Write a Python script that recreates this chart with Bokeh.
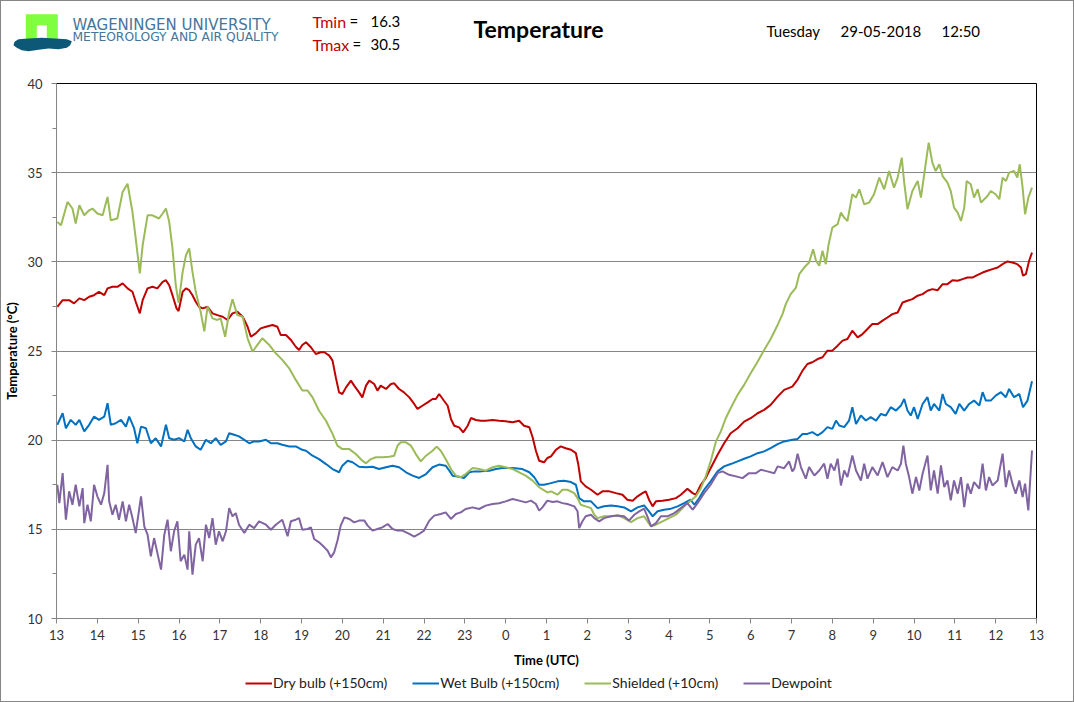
from bokeh.plotting import figure
from bokeh.models import Legend, LegendItem, FixedTicker, Range1d
from bokeh.layouts import column
from bokeh.core.properties import value
from bokeh.embed import file_html
from bokeh.resources import INLINE

# tempo em horas desde 13:00 UTC (28-05-2018), temperatura em graus C
dry_t = [0.02, 0.15, 0.31, 0.43, 0.56, 0.68, 0.80, 0.92, 1.04, 1.17, 1.25, 1.37, 1.49, 1.62, 1.74, 1.86, 1.94, 2.04,
         2.11, 2.23, 2.35, 2.47, 2.60, 2.68, 2.76, 2.84, 2.94, 2.99, 3.09, 3.17, 3.25, 3.33, 3.41, 3.49, 3.58, 3.70,
         3.82, 3.94, 4.07, 4.19, 4.31, 4.43, 4.56, 4.68, 4.76, 4.88, 5.00, 5.13, 5.29, 5.41, 5.49, 5.62, 5.74, 5.86,
         5.94, 6.02, 6.11, 6.23, 6.35, 6.47, 6.56, 6.68, 6.76, 6.84, 6.92, 7.00, 7.09, 7.21, 7.29, 7.41, 7.49, 7.58,
         7.66, 7.78, 7.86, 7.94, 8.07, 8.19, 8.27, 8.39, 8.51, 8.64, 8.76, 8.84, 8.96, 9.09, 9.21, 9.29, 9.37, 9.49,
         9.58, 9.66, 9.74, 9.86, 9.96, 10.07, 10.15, 10.27, 10.39, 10.51, 10.68, 10.84, 11.00, 11.17, 11.33, 11.45,
         11.58, 11.66, 11.74, 11.82, 11.94, 12.02, 12.11, 12.23, 12.35, 12.47, 12.60, 12.72, 12.78, 12.84, 12.96,
         13.09, 13.25, 13.37, 13.54, 13.70, 13.86, 13.98, 14.11, 14.23, 14.35, 14.43, 14.51, 14.60, 14.68, 14.84,
         15.00, 15.17, 15.29, 15.45, 15.58, 15.66, 15.78, 15.90, 16.02, 16.19, 16.35, 16.51, 16.68, 16.84, 17.00,
         17.17, 17.33, 17.49, 17.66, 17.82, 18.02, 18.15, 18.27, 18.39, 18.51, 18.64, 18.76, 18.88, 19.00, 19.13,
         19.25, 19.37, 19.49, 19.62, 19.74, 19.86, 19.98, 20.11, 20.23, 20.35, 20.47, 20.60, 20.72, 20.84, 20.96,
         21.09, 21.21, 21.33, 21.45, 21.58, 21.70, 21.82, 21.94, 22.07, 22.19, 22.31, 22.43, 22.56, 22.68, 22.80,
         22.92, 23.05, 23.17, 23.29, 23.41, 23.53, 23.62, 23.67, 23.74, 23.82, 23.89]
dry_v = [27.48, 27.85, 27.85, 27.67, 27.95, 27.85, 28.04, 28.13, 28.32, 28.13, 28.51, 28.60, 28.60, 28.79, 28.51,
         28.32, 27.76, 27.11, 27.85, 28.51, 28.60, 28.51, 28.88, 28.97, 28.69, 28.13, 27.39, 27.24, 28.32, 28.51,
         28.41, 28.13, 27.76, 27.48, 27.39, 27.48, 27.11, 27.01, 26.92, 26.74, 27.11, 27.20, 26.92, 26.36, 25.80,
         25.99, 26.27, 26.36, 26.46, 26.36, 25.90, 25.90, 25.62, 25.24, 25.06, 25.34, 25.49, 25.21, 24.83, 24.93,
         24.93, 24.74, 24.46, 23.52, 22.68, 22.59, 22.96, 23.34, 23.06, 22.68, 22.40, 23.06, 23.34, 23.15, 22.78,
         23.06, 22.87, 23.15, 23.19, 22.87, 22.68, 22.40, 22.03, 21.75, 21.93, 22.12, 22.31, 22.31, 22.59, 22.21,
         21.93, 21.19, 20.81, 20.72, 20.44, 20.81, 21.24, 21.13, 21.09, 21.09, 21.13, 21.09, 21.06, 21.00, 21.09,
         20.81, 20.72, 20.16, 19.41, 18.85, 18.76, 19.00, 19.09, 19.46, 19.65, 19.55, 19.46, 19.27, 18.62, 17.69,
         17.41, 17.22, 16.94, 17.13, 17.13, 17.03, 16.94, 16.66, 16.60, 16.85, 17.03, 17.13, 16.66, 16.29, 16.57,
         16.60, 16.66, 16.75, 16.94, 17.28, 17.03, 16.94, 17.50, 17.87, 18.43, 19.18, 19.83, 20.39, 20.67, 21.04,
         21.23, 21.51, 21.70, 21.98, 22.44, 22.82, 23.00, 23.40, 23.90, 24.27, 24.37, 24.55, 24.65, 25.02, 25.02,
         25.30, 25.58, 25.67, 26.14, 25.76, 25.95, 26.23, 26.51, 26.51, 26.70, 26.88, 27.07, 27.16, 27.72, 27.82,
         27.91, 28.10, 28.19, 28.38, 28.47, 28.41, 28.75, 28.75, 28.97, 28.94, 29.03, 29.12, 29.12, 29.27, 29.40,
         29.50, 29.59, 29.68, 29.87, 30.02, 29.96, 29.87, 29.68, 29.22, 29.31, 30.06, 30.52]

wet_t = [0.02, 0.15, 0.23, 0.35, 0.47, 0.56, 0.68, 0.80, 0.92, 1.04, 1.17, 1.25, 1.33, 1.45, 1.58, 1.70, 1.78, 1.90,
         1.98, 2.07, 2.19, 2.31, 2.43, 2.56, 2.68, 2.76, 2.88, 3.00, 3.13, 3.21, 3.29, 3.41, 3.53, 3.66, 3.78, 3.90,
         4.02, 4.15, 4.23, 4.35, 4.47, 4.60, 4.72, 4.84, 4.96, 5.13, 5.25, 5.41, 5.53, 5.70, 5.86, 6.02, 6.11, 6.27,
         6.43, 6.60, 6.76, 6.92, 7.00, 7.13, 7.25, 7.41, 7.58, 7.74, 7.90, 8.07, 8.23, 8.39, 8.56, 8.72, 8.88, 9.05,
         9.21, 9.37, 9.53, 9.62, 9.70, 9.86, 9.98, 10.11, 10.23, 10.39, 10.60, 10.76, 10.92, 11.17, 11.41, 11.58,
         11.70, 11.82, 11.94, 12.11, 12.27, 12.43, 12.60, 12.72, 12.80, 12.92, 13.09, 13.25, 13.41, 13.58, 13.74,
         13.90, 14.07, 14.23, 14.39, 14.51, 14.60, 14.72, 14.88, 15.05, 15.21, 15.37, 15.53, 15.62, 15.74, 15.86,
         16.02, 16.19, 16.35, 16.51, 16.68, 16.84, 17.00, 17.17, 17.33, 17.49, 17.66, 17.82, 18.02, 18.15, 18.27,
         18.39, 18.51, 18.64, 18.76, 18.88, 19.00, 19.09, 19.17, 19.29, 19.41, 19.49, 19.58, 19.70, 19.82, 19.94,
         20.07, 20.19, 20.31, 20.43, 20.56, 20.68, 20.76, 20.84, 20.92, 21.00, 21.09, 21.21, 21.33, 21.41, 21.49,
         21.62, 21.70, 21.78, 21.90, 22.02, 22.11, 22.23, 22.35, 22.47, 22.60, 22.68, 22.76, 22.88, 23.00, 23.13,
         23.25, 23.33, 23.45, 23.58, 23.67, 23.78, 23.89]
wet_v = [20.86, 21.51, 20.67, 21.14, 20.86, 21.14, 20.49, 20.86, 21.32, 21.14, 21.32, 22.07, 20.86, 20.95, 21.14,
         20.76, 21.32, 20.67, 19.83, 20.76, 20.67, 19.83, 20.11, 19.65, 20.86, 20.11, 20.02, 20.11, 19.93, 20.58,
         20.11, 19.65, 19.46, 20.02, 19.83, 20.11, 19.74, 19.93, 20.39, 20.30, 20.21, 20.02, 19.83, 19.93, 19.93,
         20.02, 19.83, 19.83, 19.74, 19.65, 19.65, 19.46, 19.41, 19.13, 18.94, 18.66, 18.38, 18.20, 18.57, 18.85,
         18.76, 18.51, 18.48, 18.51, 18.38, 18.48, 18.57, 18.48, 18.20, 18.01, 17.88, 18.10, 18.48, 18.63, 18.57,
         18.29, 18.01, 17.95, 17.88, 18.20, 18.25, 18.25, 18.29, 18.38, 18.44, 18.44, 18.38, 18.20, 17.92, 17.50,
         17.50, 17.59, 17.69, 17.72, 17.65, 17.50, 16.75, 16.57, 16.57, 16.19, 16.29, 16.34, 16.29, 16.23, 16.01,
         16.23, 16.34, 16.01, 15.73, 16.01, 16.10, 16.16, 16.29, 16.47, 16.66, 16.38, 16.75, 17.22, 17.69, 18.25,
         18.53, 18.66, 18.81, 18.96, 19.09, 19.27, 19.37, 19.55, 19.78, 19.93, 20.02, 20.07, 20.35, 20.35, 20.45,
         20.26, 20.45, 20.73, 20.63, 21.10, 20.82, 20.73, 21.10, 21.85, 20.91, 21.38, 21.10, 21.29, 21.10, 21.47,
         21.38, 21.85, 21.66, 21.94, 22.31, 21.66, 21.38, 21.85, 21.19, 22.03, 22.41, 21.66, 22.03, 21.66, 22.59,
         22.03, 21.85, 21.47, 22.03, 21.66, 22.03, 22.22, 21.94, 22.69, 22.22, 22.22, 22.50, 22.69, 22.41, 22.87,
         22.41, 22.59, 21.85, 22.22, 23.30]

shield_t = [0.02, 0.11, 0.27, 0.39, 0.47, 0.56, 0.68, 0.80, 0.88, 1.00, 1.13, 1.25, 1.33, 1.49, 1.62, 1.74, 1.86,
            1.94, 2.04, 2.11, 2.23, 2.35, 2.51, 2.60, 2.68, 2.76, 2.84, 2.92, 2.99, 3.09, 3.17, 3.25, 3.33, 3.41,
            3.53, 3.62, 3.70, 3.82, 3.94, 4.02, 4.13, 4.23, 4.31, 4.43, 4.56, 4.68, 4.80, 4.92, 5.04, 5.21, 5.37,
            5.53, 5.70, 5.86, 6.02, 6.15, 6.27, 6.43, 6.60, 6.76, 6.88, 7.00, 7.17, 7.33, 7.49, 7.58, 7.70, 7.82,
            7.98, 8.15, 8.27, 8.35, 8.43, 8.56, 8.68, 8.80, 8.92, 9.05, 9.21, 9.31, 9.41, 9.53, 9.66, 9.78, 9.90,
            10.02, 10.19, 10.35, 10.51, 10.68, 10.84, 11.00, 11.17, 11.33, 11.49, 11.66, 11.82, 12.02, 12.11, 12.27,
            12.39, 12.51, 12.68, 12.76, 12.84, 12.96, 13.09, 13.17, 13.25, 13.41, 13.58, 13.74, 13.90, 14.07, 14.23,
            14.39, 14.47, 14.56, 14.68, 14.84, 15.00, 15.17, 15.29, 15.41, 15.53, 15.66, 15.78, 15.90, 16.02, 16.15,
            16.27, 16.39, 16.51, 16.68, 16.84, 17.00, 17.17, 17.33, 17.49, 17.66, 17.78, 17.86, 17.98, 18.11, 18.19,
            18.31, 18.43, 18.53, 18.60, 18.68, 18.76, 18.84, 18.91, 19.00, 19.13, 19.21, 19.29, 19.37, 19.49, 19.58,
            19.66, 19.78, 19.90, 20.02, 20.15, 20.27, 20.39, 20.51, 20.60, 20.70, 20.76, 20.84, 20.96, 21.09, 21.17,
            21.25, 21.36, 21.45, 21.53, 21.62, 21.70, 21.82, 21.90, 21.98, 22.07, 22.15, 22.23, 22.29, 22.39, 22.47,
            22.56, 22.64, 22.72, 22.80, 22.88, 23.00, 23.09, 23.17, 23.25, 23.33, 23.45, 23.53, 23.59, 23.66, 23.72,
            23.80, 23.89]
shield_v = [32.24, 32.05, 33.36, 32.99, 32.15, 33.17, 32.61, 32.89, 32.99, 32.71, 32.61, 33.64, 32.33, 32.43, 33.92,
            34.38, 32.80, 31.31, 29.35, 30.93, 32.61, 32.61, 32.43, 32.71, 32.99, 32.24, 30.75, 28.70, 27.70, 29.44,
            30.37, 30.75, 29.44, 28.32, 27.20, 26.10, 27.50, 26.83, 26.74, 26.83, 25.80, 27.20, 27.90, 27.01, 26.92,
            25.71, 24.96, 25.34, 25.71, 25.34, 24.87, 24.50, 24.03, 23.38, 22.78, 22.78, 22.40, 21.65, 21.09, 20.35,
            19.69, 19.50, 19.50, 19.22, 18.85, 18.70, 18.94, 19.04, 19.04, 19.07, 19.13, 19.69, 19.88, 19.88, 19.69,
            19.22, 18.81, 19.13, 19.41, 19.64, 19.41, 18.94, 18.38, 18.01, 17.92, 18.10, 18.44, 18.38, 18.29, 18.48,
            18.57, 18.48, 18.38, 18.20, 18.01, 17.73, 17.36, 17.07, 17.13, 16.94, 17.22, 17.22, 17.03, 16.75, 16.38,
            16.29, 16.19, 15.82, 15.63, 15.73, 15.73, 15.78, 15.63, 15.41, 15.63, 15.73, 15.45, 15.17, 15.26, 15.45,
            15.63, 15.82, 16.10, 16.38, 16.60, 16.85, 17.31, 17.97, 18.81, 19.93, 20.49, 21.23, 21.79, 22.54, 23.10,
            23.75, 24.40, 25.06, 25.67, 26.46, 27.07, 27.63, 28.19, 28.56, 29.31, 29.68, 29.96, 30.71, 30.06, 29.78,
            30.62, 29.87, 30.99, 31.92, 32.11, 32.76, 32.48, 32.29, 33.79, 33.60, 34.07, 33.23, 33.32, 33.79, 34.72,
            34.07, 35.09, 34.16, 34.72, 35.84, 34.44, 32.95, 33.97, 34.53, 33.60, 34.91, 36.68, 35.56, 35.09, 35.47,
            34.81, 34.44, 33.97, 33.04, 32.76, 32.29, 33.04, 34.53, 34.35, 33.60, 34.07, 33.32, 33.51, 33.69, 33.97,
            33.79, 33.51, 34.72, 34.53, 35.00, 35.09, 34.72, 35.47, 34.16, 32.67, 33.60, 34.16]

dew_t = [0.02, 0.07, 0.15, 0.23, 0.31, 0.39, 0.47, 0.56, 0.64, 0.68, 0.76, 0.84, 0.92, 1.00, 1.09, 1.17, 1.25, 1.29,
         1.37, 1.45, 1.53, 1.62, 1.70, 1.78, 1.86, 1.94, 2.07, 2.15, 2.23, 2.31, 2.39, 2.47, 2.56, 2.64, 2.72, 2.80,
         2.88, 2.96, 3.04, 3.13, 3.21, 3.25, 3.33, 3.41, 3.49, 3.58, 3.66, 3.74, 3.82, 3.90, 3.98, 4.07, 4.15, 4.23,
         4.31, 4.39, 4.47, 4.60, 4.72, 4.84, 4.96, 5.13, 5.25, 5.37, 5.53, 5.66, 5.74, 5.86, 5.94, 6.02, 6.15, 6.23,
         6.31, 6.43, 6.56, 6.64, 6.72, 6.80, 6.88, 6.96, 7.05, 7.17, 7.29, 7.41, 7.54, 7.62, 7.74, 7.86, 7.98, 8.11,
         8.23, 8.35, 8.47, 8.64, 8.76, 8.88, 9.00, 9.13, 9.25, 9.41, 9.53, 9.66, 9.78, 9.90, 10.02, 10.19, 10.35,
         10.51, 10.68, 10.84, 11.00, 11.17, 11.33, 11.49, 11.62, 11.74, 11.82, 11.90, 12.02, 12.15, 12.27, 12.39,
         12.51, 12.68, 12.76, 12.80, 12.88, 12.96, 13.09, 13.17, 13.29, 13.41, 13.58, 13.74, 13.90, 14.02, 14.15,
         14.27, 14.39, 14.47, 14.56, 14.68, 14.80, 14.96, 15.13, 15.29, 15.45, 15.58, 15.70, 15.86, 16.02, 16.19,
         16.31, 16.47, 16.64, 16.80, 16.96, 17.13, 17.25, 17.41, 17.58, 17.66, 17.82, 17.94, 18.02, 18.07, 18.15,
         18.23, 18.35, 18.43, 18.56, 18.68, 18.80, 18.88, 18.96, 19.05, 19.13, 19.21, 19.29, 19.37, 19.49, 19.58,
         19.70, 19.78, 19.86, 19.98, 20.11, 20.23, 20.35, 20.47, 20.60, 20.68, 20.74, 20.80, 20.88, 20.96, 21.05,
         21.13, 21.21, 21.33, 21.41, 21.49, 21.58, 21.66, 21.74, 21.82, 21.90, 21.98, 22.07, 22.15, 22.23, 22.31,
         22.39, 22.47, 22.60, 22.68, 22.76, 22.84, 22.92, 23.05, 23.17, 23.25, 23.33, 23.41, 23.49, 23.58, 23.66,
         23.72, 23.80, 23.89]
dew_v = [17.50, 16.47, 18.15, 15.54, 17.13, 16.38, 17.50, 16.29, 17.31, 15.35, 16.38, 15.45, 17.50, 16.85, 16.38,
         17.03, 18.62, 16.57, 15.82, 16.38, 15.54, 16.57, 15.45, 16.38, 15.63, 14.79, 16.85, 15.17, 14.70, 13.49,
         14.51, 13.68, 12.74, 14.70, 15.54, 13.77, 14.89, 15.45, 13.21, 13.58, 12.74, 14.89, 12.46, 14.14, 14.51,
         13.21, 15.26, 14.51, 15.63, 14.14, 14.89, 14.33, 14.89, 16.19, 15.73, 15.91, 15.26, 14.79, 15.26, 15.07,
         15.45, 15.26, 14.98, 15.26, 15.54, 14.61, 15.45, 15.54, 15.63, 14.98, 15.02, 15.11, 14.46, 14.27, 13.99,
         13.80, 13.43, 13.71, 14.36, 15.21, 15.67, 15.58, 15.39, 15.49, 15.49, 15.21, 14.93, 15.02, 15.11, 15.30,
         15.02, 14.93, 14.93, 14.74, 14.59, 14.74, 14.93, 15.49, 15.77, 15.86, 15.95, 15.58, 15.86, 15.95, 16.14,
         16.23, 16.14, 16.33, 16.42, 16.46, 16.57, 16.70, 16.61, 16.51, 16.61, 16.42, 16.05, 16.23, 16.61, 16.53,
         16.57, 16.47, 16.42, 16.29, 16.01, 15.07, 15.45, 15.73, 15.82, 15.63, 15.45, 15.63, 15.73, 15.78, 15.73,
         15.49, 15.82, 16.01, 16.16, 15.73, 15.17, 15.35, 15.73, 15.73, 15.91, 16.19, 16.47, 16.10, 16.47, 17.03,
         17.50, 18.15, 18.25, 18.06, 17.97, 17.87, 18.15, 18.15, 18.34, 18.25, 18.15, 18.53, 18.43, 18.81, 18.25,
         18.40, 19.24, 18.49, 17.84, 18.49, 18.02, 18.30, 18.68, 17.84, 18.68, 18.30, 18.96, 17.46, 18.30, 17.93,
         19.14, 18.30, 17.74, 18.68, 17.84, 18.49, 18.02, 18.77, 17.93, 18.49, 18.30, 18.68, 19.70, 18.68, 17.93,
         17.00, 17.93, 17.18, 18.12, 19.14, 17.18, 18.30, 17.00, 18.58, 17.37, 17.74, 16.62, 17.74, 17.00, 17.93,
         16.25, 17.56, 17.00, 17.65, 17.28, 18.68, 17.18, 17.93, 17.46, 17.74, 19.24, 17.37, 18.30, 17.56, 17.00,
         17.74, 16.81, 17.56, 16.06, 19.42]

hour_ticks = list(range(25))
hour_labels = [str((13 + h) % 24) for h in hour_ticks]
temp_ticks = [10, 15, 20, 25, 30, 35, 40]
temp_minor = [12.5, 17.5, 22.5, 27.5, 32.5, 37.5]
series_names = ["Dry bulb (+150cm)", "Wet Bulb (+150cm)", "Shielded (+10cm)", "Dewpoint"]
series_colors = ["#c00000", "#0070c0", "#9bbb59", "#8064a2"]
series_t = [dry_t, wet_t, shield_t, dew_t]
series_v = [dry_v, wet_v, shield_v, dew_v]

FONT = "Lato"
GRID = "#868686"
W = 1072            # largura interna (a moldura de 1px fica por fora)
HEAD_H = 72
MAIN_H = 598
LEG_H = 30


def no_align(fig):
    # cada figura com o seu proprio quadro (sem alinhar com as outras da coluna)
    if "frame_align" in fig.properties():
        fig.frame_align = False
    return fig


def bare(w, h, xr, yr):
    # figura sem eixos, o quadro ocupa tudo
    fig = figure(width=w, height=h, x_range=xr, y_range=yr, x_axis_location=None, y_axis_location=None,
                 min_border=0, output_backend="svg", toolbar_location=None)
    fig.xgrid.visible = False
    fig.ygrid.visible = False
    fig.outline_line_color = None
    return no_align(fig)


# ---- cabecalho (coordenadas = pixels da pagina, y para baixo)
head = bare(W, HEAD_H, Range1d(1, W + 1), Range1d(HEAD_H + 1, 1))
head.patch([25.3, 57.3, 57.3, 46.3, 46.3, 36.3, 36.3, 25.3], [13.7, 13.7, 38.7, 38.7, 24.7, 24.7, 38.7, 38.7],
           fill_color="#7fff3f", line_color=None)
head.patch([14, 18, 28, 41.3, 54.7, 66.3, 71.3, 69.7, 66.3, 58, 48, 38, 28, 21.3, 16.3, 13],
           [41.3, 38.7, 38, 37.3, 38, 38.7, 40.7, 44.7, 47.3, 48.7, 48, 49.3, 50.7, 49.7, 47.3, 44.7],
           fill_color="#0d5877", line_color=None)


def txt(x, y, s, size="15px", color="black", font=FONT, style="normal", align="left"):
    head.text(x=[x], y=[y], text=[s], text_font=value(font), text_font_size=size, text_color=color,
              text_font_style=style, text_align=align, text_baseline="middle")


txt(72, 24.5, "WAGENINGEN UNIVERSITY", size="15px", color="#46759a", font="DejaVu Sans")
txt(72, 36.5, "METEOROLOGY AND AIR QUALITY", size="12.3px", color="#46759a", font="DejaVu Sans")
txt(312, 20.5, "Tmin", size="16px", color="#c00000")
txt(349, 20.5, "=")
txt(370, 20.5, f"{min(dry_v):.1f}")
txt(312, 43.5, "Tmax", size="16px", color="#c00000")
txt(352, 43.5, "=")
txt(370, 43.5, f"{max(dry_v):.1f}")
txt(538, 28.5, "Temperature", size="23px", style="bold", align="center")
txt(766, 30.5, "Tuesday")
txt(840, 30.5, "29-05-2018")
txt(941, 30.5, "12:50")

# ---- grafico principal
p = figure(width=W, height=MAIN_H, x_range=Range1d(0, 24), y_range=Range1d(10, 40),
           output_backend="svg", toolbar_location=None,
           min_border_left=54, min_border_right=37, min_border_top=10, min_border_bottom=53)
no_align(p)
p.outline_line_color = "black"
p.outline_line_width = 1

for t, v, c in zip(series_t, series_v, series_colors):
    p.line(t, v, line_color=c, line_width=2)

p.xaxis.ticker = FixedTicker(ticks=hour_ticks)
p.xaxis.major_label_overrides = dict(zip(hour_ticks, hour_labels))
p.xaxis.axis_label = "Time (UTC)"
p.yaxis.ticker = FixedTicker(ticks=temp_ticks, minor_ticks=temp_minor)
p.yaxis.axis_label = "Temperature (°C)"
for ax in [p.xaxis, p.yaxis]:
    ax.axis_line_color = GRID
    ax.major_tick_line_color = GRID
    ax.minor_tick_line_color = GRID
    ax.major_tick_in = 0
    ax.major_tick_out = 5
    ax.minor_tick_in = 0
    ax.minor_tick_out = 4
    ax.major_label_text_font = FONT
    ax.major_label_text_font_size = "13px"
    ax.major_label_text_color = "#333333"
    ax.axis_label_text_font = FONT
    ax.axis_label_text_font_size = "13px"
    ax.axis_label_text_font_style = "bold"
    ax.axis_label_text_color = "black"
p.xaxis.minor_tick_line_color = None
p.xaxis.major_label_standoff = 6
p.xaxis.axis_label_standoff = 9
p.yaxis.major_label_standoff = 9
p.yaxis.axis_label_standoff = 4

p.xgrid.grid_line_color = None
p.ygrid.ticker = FixedTicker(ticks=temp_ticks)
p.ygrid.grid_line_color = GRID

# ---- legenda numa faixa propria (as linhas ficam fora da faixa visivel)
leg = bare(W, LEG_H, Range1d(0, 24), Range1d(0, 1))
keys = [leg.line(t, v, line_color=c, line_width=2) for t, v, c in zip(series_t, series_v, series_colors)]
legend = Legend(items=[LegendItem(label=n, renderers=[r]) for n, r in zip(series_names, keys)],
                orientation="horizontal", location=(244, 10), glyph_width=27, glyph_height=16,
                label_standoff=1, spacing=25, padding=0, margin=0, border_line_color=None,
                background_fill_alpha=0, label_text_font=FONT, label_text_font_size="14px",
                label_height=16, label_text_color="#222222")
leg.add_layout(legend)

page = column(head, p, leg, spacing=0, styles={"border": "1px solid #868686"})

open("out.html", "w").write(file_html(page, INLINE))
